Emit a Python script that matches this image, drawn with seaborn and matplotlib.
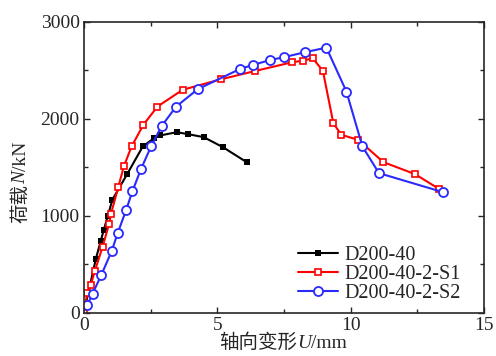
import pandas as pd
import seaborn as sns
import matplotlib.pyplot as plt
from matplotlib.ticker import MultipleLocator

# Data
x_d200 = [0, 0.45, 0.63, 0.75, 0.9, 1.07, 1.63, 2.21, 2.63, 2.86, 3.48, 3.92, 4.49, 5.21, 6.12]
y_d200 = [0, 556, 737, 857, 1000, 1166, 1433, 1715, 1800, 1828, 1862, 1841, 1811, 1708, 1550]

x_s1 = [0, 0.13, 0.26, 0.41, 0.70, 0.95, 1.02, 1.29, 1.50, 1.79, 2.23, 2.76, 3.70, 5.14,
        6.43, 7.80, 8.22, 8.58, 8.96, 9.35, 9.65, 10.28, 11.23, 12.41, 13.32]
y_s1 = [0, 206, 291, 429, 679, 919, 1022, 1296, 1509, 1715, 1938, 2126, 2298, 2407,
        2493, 2582, 2599, 2623, 2493, 1955, 1835, 1783, 1553, 1430, 1276]

x_s2 = [0.13, 0.33, 0.66, 1.04, 1.27, 1.58, 1.82, 2.14, 2.52, 2.92, 3.46, 4.27, 5.86,
        6.34, 6.99, 7.49, 8.27, 9.09, 9.84, 10.44, 11.06, 13.45]
y_s2 = [79, 199, 394, 634, 823, 1056, 1252, 1481, 1715, 1927, 2126, 2305, 2514,
        2555, 2606, 2634, 2685, 2733, 2281, 1715, 1440, 1245]

labels = ['D200-40', 'D200-40-2-S1', 'D200-40-2-S2']

sns.set_style('ticks')
plt.rcParams['font.family'] = ['Liberation Serif', 'Noto Sans CJK SC']

FS = 14

fig = plt.figure(figsize=(4.96, 3.56), dpi=100)
ax = fig.add_axes([0.169, 0.121, 0.807, 0.818])

df1 = pd.DataFrame({'x': x_d200, 'y': y_d200})
df2 = pd.DataFrame({'x': x_s1, 'y': y_s1})
df3 = pd.DataFrame({'x': x_s2, 'y': y_s2})

sns.lineplot(data=df1, x='x', y='y', ax=ax, sort=False, estimator=None, color='black',
             lw=1.5, marker='s', markersize=5, markeredgewidth=0, label=labels[0])
sns.lineplot(data=df2, x='x', y='y', ax=ax, sort=False, estimator=None, color='#ff0000',
             lw=1.5, marker='s', markersize=5, markerfacecolor='white',
             markeredgecolor='#ff0000', markeredgewidth=1.2, label=labels[1])
sns.lineplot(data=df3, x='x', y='y', ax=ax, sort=False, estimator=None, color='#2a2aff',
             lw=1.5, marker='o', markersize=6.5, markerfacecolor='white',
             markeredgecolor='#2a2aff', markeredgewidth=1.3, label=labels[2])

ax.set_xlim(0, 15)
ax.set_ylim(0, 3000)
ax.xaxis.set_major_locator(MultipleLocator(5))
ax.xaxis.set_minor_locator(MultipleLocator(2.5))
ax.yaxis.set_major_locator(MultipleLocator(1000))
ax.yaxis.set_minor_locator(MultipleLocator(500))
ax.tick_params(which='both', direction='in', top=True, right=True, labelsize=FS, width=1)
ax.tick_params(which='major', length=4, pad=3)
ax.tick_params(which='minor', length=3)
for s in ax.spines.values():
    s.set_linewidth(1.2)
ax.set_xlabel('')
ax.set_ylabel('')

ax.legend(loc='upper left', bbox_to_anchor=(0.535, 0.23), frameon=False, fontsize=14.5,
          handlelength=2.0, handletextpad=0.3, labelspacing=0.0, borderpad=0.0,
          borderaxespad=0.0)


# axis labels built from pieces so that the variable letter is italic
def piece_label(pieces, cx, cy, rotation=0):
    texts = []
    for s, style in pieces:
        texts.append(fig.text(0, 0, s, fontsize=FS, style=style, rotation=rotation,
                              ha='left', va='center', rotation_mode='anchor'))
    fig.canvas.draw()
    r = fig.canvas.get_renderer()
    sizes = []
    for t in texts:
        bb = t.get_window_extent(r)
        sizes.append(bb.height if rotation else bb.width)
    total = sum(sizes)
    W, H = fig.bbox.width, fig.bbox.height
    pos = -total / 2
    for t, sz in zip(texts, sizes):
        if rotation:
            t.set_position((cx / W, (H - cy + pos) / H))
        else:
            t.set_position(((cx + pos) / W, (H - cy) / H))
        pos += sz


piece_label([('轴向变形', 'normal'), ('U', 'italic'), ('/mm', 'normal')], 283, 343)
piece_label([('荷载', 'normal'), ('N', 'italic'), ('/kN', 'normal')], 21, 182, rotation=90)

fig.savefig('out.png', dpi=100)
